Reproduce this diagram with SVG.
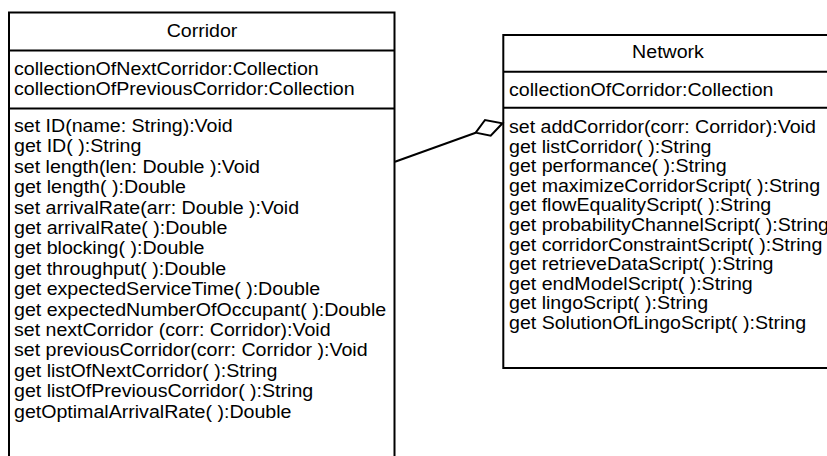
<svg xmlns="http://www.w3.org/2000/svg" width="827" height="456" viewBox="0 0 827 456">
<style>
.box{fill:#fff;stroke:#000;stroke-width:2}
.sep{stroke:#000;stroke-width:2;fill:none}
text{font-family:"Liberation Sans",Arial,sans-serif;font-size:17.7px;fill:#000}
.t{text-anchor:middle}
.conn{stroke:#000;stroke-width:2;fill:none}
.dia{stroke:#000;stroke-width:2;fill:#fff;stroke-linejoin:miter}
</style>
<rect width="827" height="456" fill="#fff"/>
<g id="corridor">
<rect class="box" x="9" y="12.5" width="385.5" height="470"/>
<line class="sep" x1="9" y1="50.5" x2="394.5" y2="50.5"/>
<line class="sep" x1="9" y1="108.5" x2="394.5" y2="108.5"/>
<g transform="translate(202,0) scale(1.107,1)">
<text class="t" x="0" y="37">Corridor</text>
</g>
<g transform="translate(14,0) scale(1.107,1)">
<text x="0" y="75">collectionOfNextCorridor:Collection</text>
<text x="0" y="95.5">collectionOfPreviousCorridor:Collection</text>
<text x="0" y="132">set ID(name: String):Void</text>
<text x="0" y="152.4">get ID( ):String</text>
<text x="0" y="172.8">set length(len: Double ):Void</text>
<text x="0" y="193.2">get length( ):Double</text>
<text x="0" y="213.6">set arrivalRate(arr: Double ):Void</text>
<text x="0" y="234">get arrivalRate( ):Double</text>
<text x="0" y="254.4">get blocking( ):Double</text>
<text x="0" y="274.8">get throughput( ):Double</text>
<text x="0" y="295.2">get expectedServiceTime( ):Double</text>
<text x="0" y="315.6">get expectedNumberOfOccupant( ):Double</text>
<text x="0" y="336">set nextCorridor (corr: Corridor):Void</text>
<text x="0" y="356.4">set previousCorridor(corr: Corridor ):Void</text>
<text x="0" y="376.8">get listOfNextCorridor( ):String</text>
<text x="0" y="397.2">get listOfPreviousCorridor( ):String</text>
<text x="0" y="417.6">getOptimalArrivalRate( ):Double</text>
</g>
</g>
<g id="network">
<rect class="box" x="503.3" y="35" width="330" height="333"/>
<line class="sep" x1="503.3" y1="71.7" x2="833" y2="71.7"/>
<line class="sep" x1="503.3" y1="107.7" x2="833" y2="107.7"/>
<g transform="translate(668,0) scale(1.107,1)">
<text class="t" x="0" y="58">Network</text>
</g>
<g transform="translate(509,0) scale(1.107,1)">
<text x="0" y="96">collectionOfCorridor:Collection</text>
<text x="0" y="133">set addCorridor(corr: Corridor):Void</text>
<text x="0" y="152.6">get listCorridor( ):String</text>
<text x="0" y="172.2">get performance( ):String</text>
<text x="0" y="191.8">get maximizeCorridorScript( ):String</text>
<text x="0" y="211.4">get flowEqualityScript( ):String</text>
<text x="0" y="231">get probabilityChannelScript( ):String</text>
<text x="0" y="250.6">get corridorConstraintScript( ):String</text>
<text x="0" y="270.2">get retrieveDataScript( ):String</text>
<text x="0" y="289.8">get endModelScript( ):String</text>
<text x="0" y="309.4">get lingoScript( ):String</text>
<text x="0" y="329">get SolutionOfLingoScript( ):String</text>
</g>
</g>
<g id="connectors">
<line class="conn" x1="395" y1="161.7" x2="475.7" y2="132.7"/>
<polygon class="dia" points="475.7,132.7 485,120 502.5,123.3 490.7,135.7"/>
</g>
</svg>
